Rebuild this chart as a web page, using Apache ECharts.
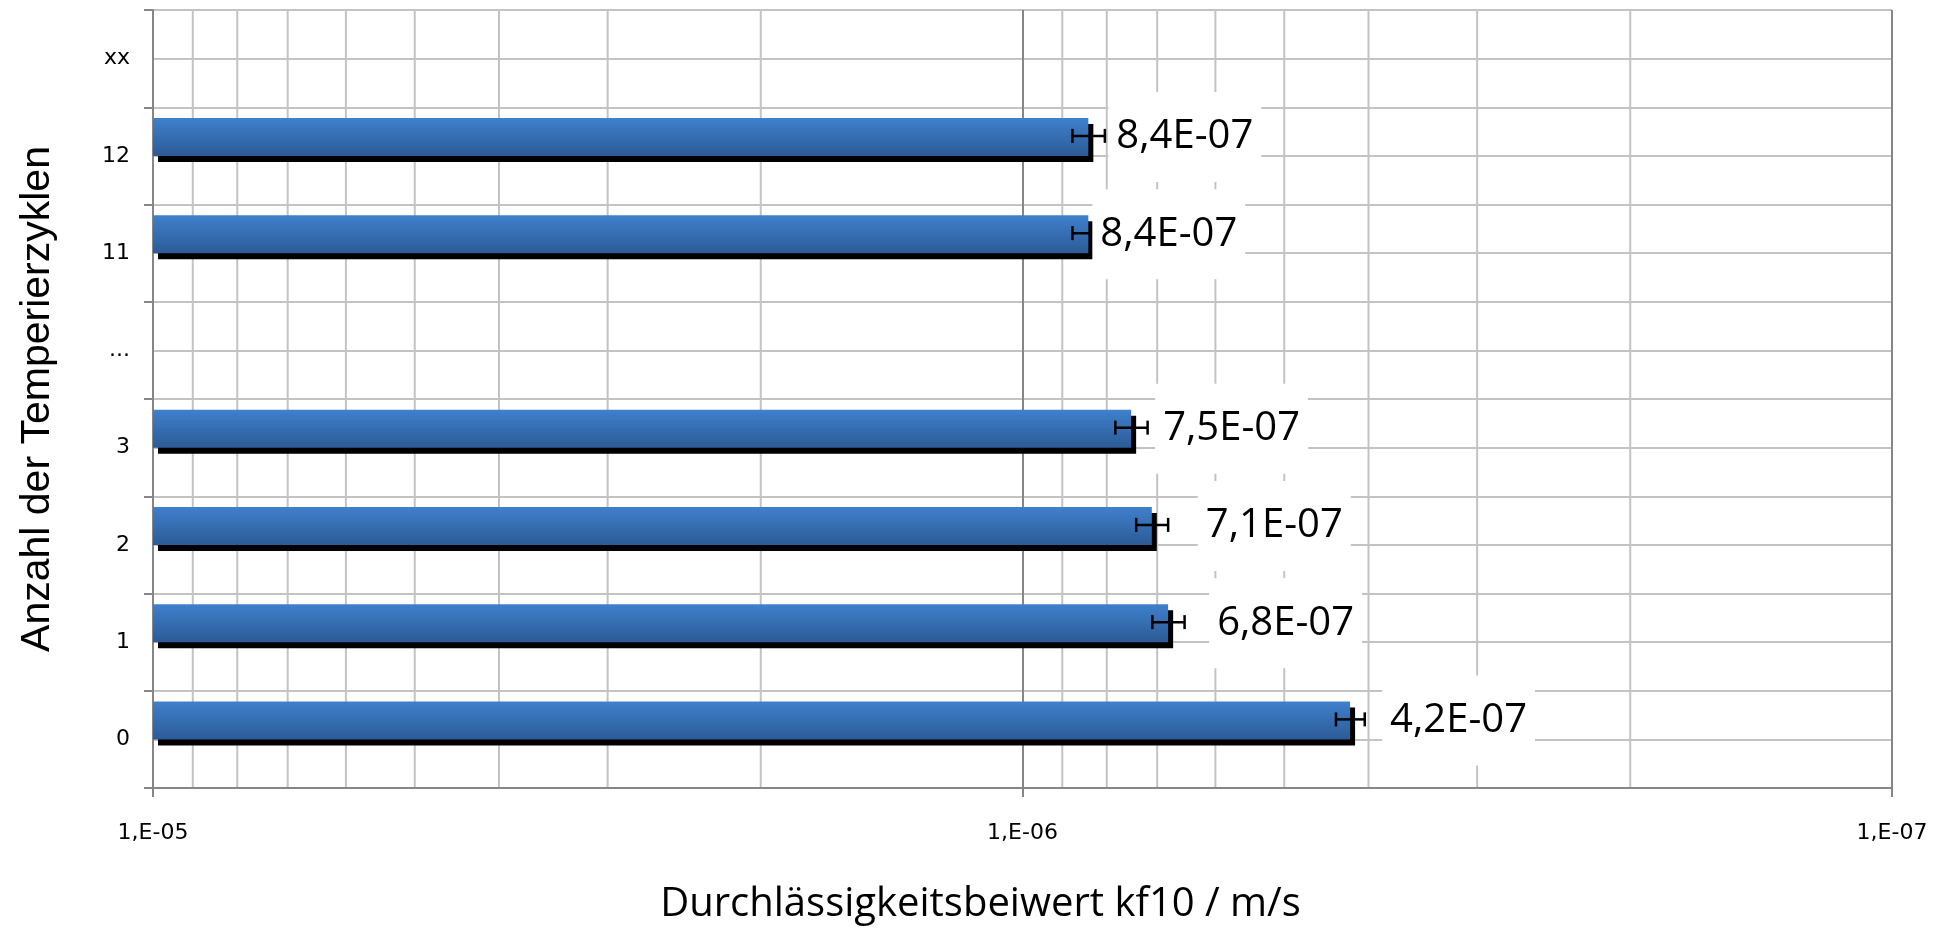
<!DOCTYPE html>
<html>
<head>
<meta charset="utf-8">
<title>Durchlässigkeitsbeiwert kf10</title>
<script src="https://cdn.jsdelivr.net/npm/echarts@6/dist/echarts.min.js"></script>
<style>
  html, body { margin: 0; padding: 0; background: #fff; }
  #chart { width: 1951px; height: 930px; }
</style>
</head>
<body>
<div id="chart"></div>
<script>
// Number of temperature cycles (bottom to top)
const categories = ['0', '1', '2', '3', '...', '11', '12', 'xx'];
// Permeability coefficient kf10 in m/s
const kf10 = [4.2e-7, 6.8e-7, 7.1e-7, 7.5e-7, null, 8.4e-7, 8.4e-7, null];
// Standard deviation (±) of kf10 in m/s
const kf10Error = [1.6e-8, 2.9e-8, 3.0e-8, 3.2e-8, null, 3.6e-8, 3.6e-8, null];
// Axis range and intermediate log grid lines
const axisMin = 1e-7;
const axisMax = 1e-5;
const minorGridValues = [9e-6, 8e-6, 7e-6, 6e-6, 5e-6, 4e-6, 3e-6, 2e-6,
                         9e-7, 8e-7, 7e-7, 6e-7, 5e-7, 4e-7, 3e-7, 2e-7];

// Gap between bar end and its value box, per category (px)
const labelDistance = [32, 41, 46, 24, 0, 4, 20, 0];
const BAR_WIDTH = 38;

function expPart(n) {
  return (n < 0 ? '-' : '+') + String(Math.abs(n)).padStart(2, '0');
}
function sciLabel(v) {
  const parts = v.toExponential(1).split('e');
  return parts[0].replace('.', ',') + 'E' + expPart(parseInt(parts[1], 10));
}
function decadeLabel(v) {
  return '1,E' + expPart(Math.round(Math.log10(v)));
}

// [value, category index, ±error, label gap]
const annotData = [];
kf10.forEach((v, i) => {
  if (v != null) annotData.push([v, i, kf10Error[i] || 0, labelDistance[i]]);
});

const gridGrey = '#c3c3c3';
const axisGrey = '#868686';

const chart = echarts.init(document.getElementById('chart'), null, { renderer: 'canvas' });
chart.setOption({
  animation: false,
  backgroundColor: '#ffffff',
  grid: { left: 153, right: 59, top: 10, bottom: 136, containLabel: false },
  xAxis: {
    type: 'log',
    logBase: 10,
    inverse: true,
    min: axisMin,
    max: axisMax,
    startValue: axisMax,
    z: 1,
    axisLine: { show: true, onZero: false, lineStyle: { color: axisGrey, width: 2 } },
    axisTick: { show: true, length: 9, lineStyle: { color: axisGrey, width: 2 } },
    axisLabel: {
      formatter: decadeLabel, margin: 34,
      fontFamily: 'DejaVu Sans', fontSize: 22, color: '#000'
    },
    splitLine: { show: true, lineStyle: { color: axisGrey, width: 2 } },
    name: 'Durchlässigkeitsbeiwert kf10 / m/s',
    nameLocation: 'middle',
    nameGap: 97,
    nameTextStyle: { fontFamily: 'Open Sans', fontSize: 40, color: '#000', padding: [0, 84, 0, 0] }
  },
  yAxis: [
    {
      type: 'category',
      data: categories,
      boundaryGap: true,
      z: 1,
      axisLine: { show: true, onZero: false, lineStyle: { color: axisGrey, width: 2 } },
      axisTick: { show: true, length: 9, lineStyle: { color: axisGrey, width: 2 } },
      axisLabel: { interval: 0, margin: 23, fontFamily: 'DejaVu Sans', fontSize: 22, color: '#000' },
      splitLine: { show: false },
      name: 'Anzahl der Temperierzyklen',
      nameLocation: 'middle',
      nameRotate: 90,
      nameGap: 95,
      nameTextStyle: { fontFamily: 'Liberation Sans', fontSize: 41, color: '#000' }
    },
    {
      // half-category horizontal grid
      type: 'value',
      min: 0,
      max: 16,
      interval: 1,
      position: 'left',
      z: 0,
      axisLine: { show: false },
      axisTick: { show: false },
      axisLabel: { show: false },
      splitLine: { show: true, lineStyle: { color: gridGrey, width: 2 } }
    }
  ],
  series: [
    {
      // intermediate vertical grid lines of the log axis (2..9 per decade)
      name: 'minorGrid',
      type: 'custom',
      xAxisIndex: 0,
      yAxisIndex: 0,
      z: 0,
      silent: true,
      data: minorGridValues.map(v => [v]),
      encode: { x: 0 },
      renderItem: function (params, api) {
        const x = api.coord([api.value(0), 0])[0];
        const cs = params.coordSys;
        return {
          type: 'line',
          shape: { x1: x, y1: cs.y, x2: x, y2: cs.y + cs.height },
          style: { stroke: gridGrey, lineWidth: 2 }
        };
      }
    },
    {
      name: 'kf10',
      type: 'bar',
      xAxisIndex: 0,
      yAxisIndex: 0,
      barWidth: BAR_WIDTH,
      barGap: '0%',
      z: 2,
      data: kf10,
      itemStyle: {
        color: new echarts.graphic.LinearGradient(0, 0, 0, 1, [
          { offset: 0, color: '#3f80cd' },
          { offset: 1, color: '#2c5b96' }
        ]),
        shadowColor: '#000',
        shadowBlur: 0,
        shadowOffsetX: 5,
        shadowOffsetY: 6
      }
    },
    {
      // empty slot sharing each category band
      name: 'slot',
      type: 'bar',
      xAxisIndex: 0,
      yAxisIndex: 0,
      barWidth: BAR_WIDTH,
      barGap: '0%',
      data: []
    },
    {
      // error bars and value boxes
      name: 'annotations',
      type: 'custom',
      xAxisIndex: 0,
      yAxisIndex: 0,
      z: 3,
      silent: true,
      data: annotData,
      encode: { x: 0, y: 1 },
      renderItem: function (params, api) {
        const v = api.value(0);
        const idx = api.value(1);
        const err = api.value(2);
        const gap = api.value(3);
        const c = api.coord([v, idx]);
        const a = api.coord([v - err, idx]);
        const b = api.coord([v + err, idx]);
        const barMid = c[1] - BAR_WIDTH / 2;
        const y = barMid - 1;
        const cap = 7;
        const st = { stroke: '#000', lineWidth: 2.5 };
        const children = [];
        if (err > 0) {
          children.push(
            { type: 'line', shape: { x1: a[0], y1: y, x2: b[0], y2: y }, style: st },
            { type: 'line', shape: { x1: a[0], y1: y - cap, x2: a[0], y2: y + cap }, style: st },
            { type: 'line', shape: { x1: b[0], y1: y - cap, x2: b[0], y2: y + cap }, style: st }
          );
        }
        children.push({
          type: 'text',
          x: c[0] + gap,
          y: barMid,
          style: {
            text: sciLabel(v),
            fontFamily: 'Open Sans',
            fontSize: 40,
            lineHeight: 46,
            fill: '#000',
            backgroundColor: '#ffffff',
            padding: [22, 8, 22, 8],
            align: 'left',
            verticalAlign: 'middle'
          }
        });
        return { type: 'group', children: children };
      }
    }
  ]
});
</script>
</body>
</html>
